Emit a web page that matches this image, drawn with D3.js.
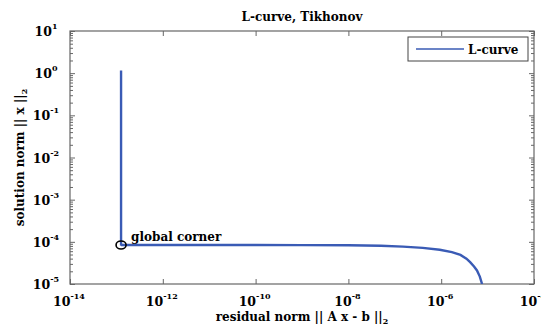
<!DOCTYPE html>
<html>
<head>
<meta charset="utf-8">
<script src="https://cdn.jsdelivr.net/npm/d3@7"></script>
<style>
  body { margin: 0; background: #fff; }
  text { font-family: "DejaVu Serif", serif; font-weight: bold; }
</style>
</head>
<body>
<div id="chart"></div>
<script>
// L-curve points
var residualNorm = [1.26e-13, 1.26e-13, 1.26e-13, 1.26e-13, 1.26e-13, 1.26e-13, 1.26e-13, 1.26e-13,
    1.3e-13, 1e-12, 1e-11, 1e-10, 1e-9, 1e-8, 5e-8, 1.5e-7, 4e-7, 9.3e-7, 1.7e-6, 2.6e-6,
    3.5e-6, 4.2e-6, 5.1e-6, 5.9e-6, 6.8e-6, 7.6e-6];
var solutionNorm = [1.15, 0.5, 0.1, 1e-2, 1e-3, 3e-4, 1.2e-4, 8.6e-5,
    8.4e-5, 8.4e-5, 8.4e-5, 8.38e-5, 8.35e-5, 8.3e-5, 8.1e-5, 7.7e-5, 7.2e-5, 6.5e-5, 5.7e-5, 4.9e-5,
    4.0e-5, 3.3e-5, 2.6e-5, 2.1e-5, 1.5e-5, 1.0e-5];
var cornerPoint = [1.26e-13, 8.4e-5];
var xTickExp = [-14, -12, -10, -8, -6, -4];
var yTickExp = [1, 0, -1, -2, -3, -4, -5];
var titleText = 'L-curve, Tikhonov';
var legendText = 'L-curve';
var cornerText = 'global corner';

var width = 541, height = 326,
    margin = {left: 70, right: 7, top: 31, bottom: 42},
    lineColor = '#3a5bb5',
    axisColor = '#666';

var svg = d3.select('#chart').append('svg')
    .attr('width', width)
    .attr('height', height);

var x = d3.scaleLog().domain([1e-14, 1e-4]).range([margin.left, width - margin.right]);
var y = d3.scaleLog().domain([1e-5, 1e1]).range([height - margin.bottom, margin.top]);

var x0 = x.range()[0], x1 = x.range()[1], y0 = y.range()[0], y1 = y.range()[1];

// minor ticks for y (2..9 each decade)
var yMinor = [];
yTickExp.forEach(function (e) {
    if (e === 1) return;
    for (var k = 2; k <= 9; k++) yMinor.push(k * Math.pow(10, e));
});
var yMajor = yTickExp.map(function (e) { return Math.pow(10, e); });
var xMajor = xTickExp.map(function (e) { return Math.pow(10, e); });

function styleAxis(g) {
    g.select('.domain').remove();
    g.selectAll('line').attr('stroke', axisColor);
    g.selectAll('text').remove();
}

svg.append('g').attr('transform', 'translate(0,' + y0 + ')')
    .call(d3.axisTop(x).tickValues(xMajor).tickSize(5).tickFormat('')).call(styleAxis);
svg.append('g').attr('transform', 'translate(0,' + y1 + ')')
    .call(d3.axisBottom(x).tickValues(xMajor).tickSize(5).tickFormat('')).call(styleAxis);
svg.append('g').attr('transform', 'translate(' + x0 + ',0)')
    .call(d3.axisRight(y).tickValues(yMajor).tickSize(5).tickFormat('')).call(styleAxis);
svg.append('g').attr('transform', 'translate(' + x1 + ',0)')
    .call(d3.axisLeft(y).tickValues(yMajor).tickSize(5).tickFormat('')).call(styleAxis);
svg.append('g').attr('transform', 'translate(' + x0 + ',0)')
    .call(d3.axisRight(y).tickValues(yMinor).tickSize(3).tickFormat('')).call(styleAxis);
svg.append('g').attr('transform', 'translate(' + x1 + ',0)')
    .call(d3.axisLeft(y).tickValues(yMinor).tickSize(3).tickFormat('')).call(styleAxis);

// frame
svg.append('rect')
    .attr('x', x0).attr('y', y1)
    .attr('width', x1 - x0).attr('height', y0 - y1)
    .attr('fill', 'none').attr('stroke', axisColor).attr('stroke-width', 1.2);

// tick labels with superscripts
function powLabel(sel, e) {
    sel.append('tspan').text('10');
    sel.append('tspan').attr('dy', -7).attr('font-size', 8).text(e);
}
yTickExp.forEach(function (e) {
    var t = svg.append('text')
        .attr('x', 46).attr('y', y(Math.pow(10, e)) + 5)
        .attr('text-anchor', 'middle')
        .attr('font-size', 12.5);
    powLabel(t, e);
});
xTickExp.forEach(function (e) {
    var t = svg.append('text')
        .attr('x', x(Math.pow(10, e)) - 1).attr('y', y0 + 22)
        .attr('text-anchor', 'middle')
        .attr('font-size', 12.5);
    powLabel(t, e);
});

// title and axis labels
svg.append('text').attr('x', (x0 + x1) / 2).attr('y', 21)
    .attr('text-anchor', 'middle').attr('font-size', 12).text(titleText);

var xl = svg.append('text').attr('x', (x0 + x1) / 2).attr('y', 321)
    .attr('text-anchor', 'middle').attr('font-size', 12);
xl.append('tspan').text('residual norm || A x - b ||');
xl.append('tspan').attr('dy', 3).attr('font-size', 8).text('2');

var yl = svg.append('text')
    .attr('transform', 'translate(24,' + (y0 + y1) / 2 + ') rotate(-90)')
    .attr('text-anchor', 'middle').attr('font-size', 12);
yl.append('tspan').text('solution norm || x ||');
yl.append('tspan').attr('dy', 3).attr('font-size', 8).text('2');

// curve
svg.append('clipPath').attr('id', 'clip').append('rect')
    .attr('x', x0).attr('y', y1).attr('width', x1 - x0).attr('height', y0 - y1);

var pts = residualNorm.map(function (r, i) { return [r, solutionNorm[i]]; });
svg.append('path')
    .datum(pts)
    .attr('clip-path', 'url(#clip)')
    .attr('fill', 'none')
    .attr('stroke', lineColor)
    .attr('stroke-width', 2.4)
    .attr('d', d3.line().x(function (d) { return x(d[0]); }).y(function (d) { return y(d[1]); }));

// corner marker
svg.append('ellipse')
    .attr('cx', x(cornerPoint[0])).attr('cy', y(cornerPoint[1]))
    .attr('rx', 5).attr('ry', 4)
    .attr('fill', 'none').attr('stroke', '#000').attr('stroke-width', 1.6);
svg.append('text')
    .attr('x', x(cornerPoint[0]) + 10).attr('y', y(cornerPoint[1]) - 4)
    .attr('font-size', 12).text(cornerText);

// legend
var lg = svg.append('g').attr('transform', 'translate(408,37)');
lg.append('rect').attr('width', 120).attr('height', 24)
    .attr('fill', '#fff').attr('stroke', '#444').attr('stroke-width', 1);
lg.append('line').attr('x1', 8).attr('x2', 56).attr('y1', 12).attr('y2', 12)
    .attr('stroke', lineColor).attr('stroke-width', 1.5);
lg.append('text').attr('x', 60).attr('y', 16.5).attr('font-size', 12).text(legendText);
</script>
</body>
</html>
